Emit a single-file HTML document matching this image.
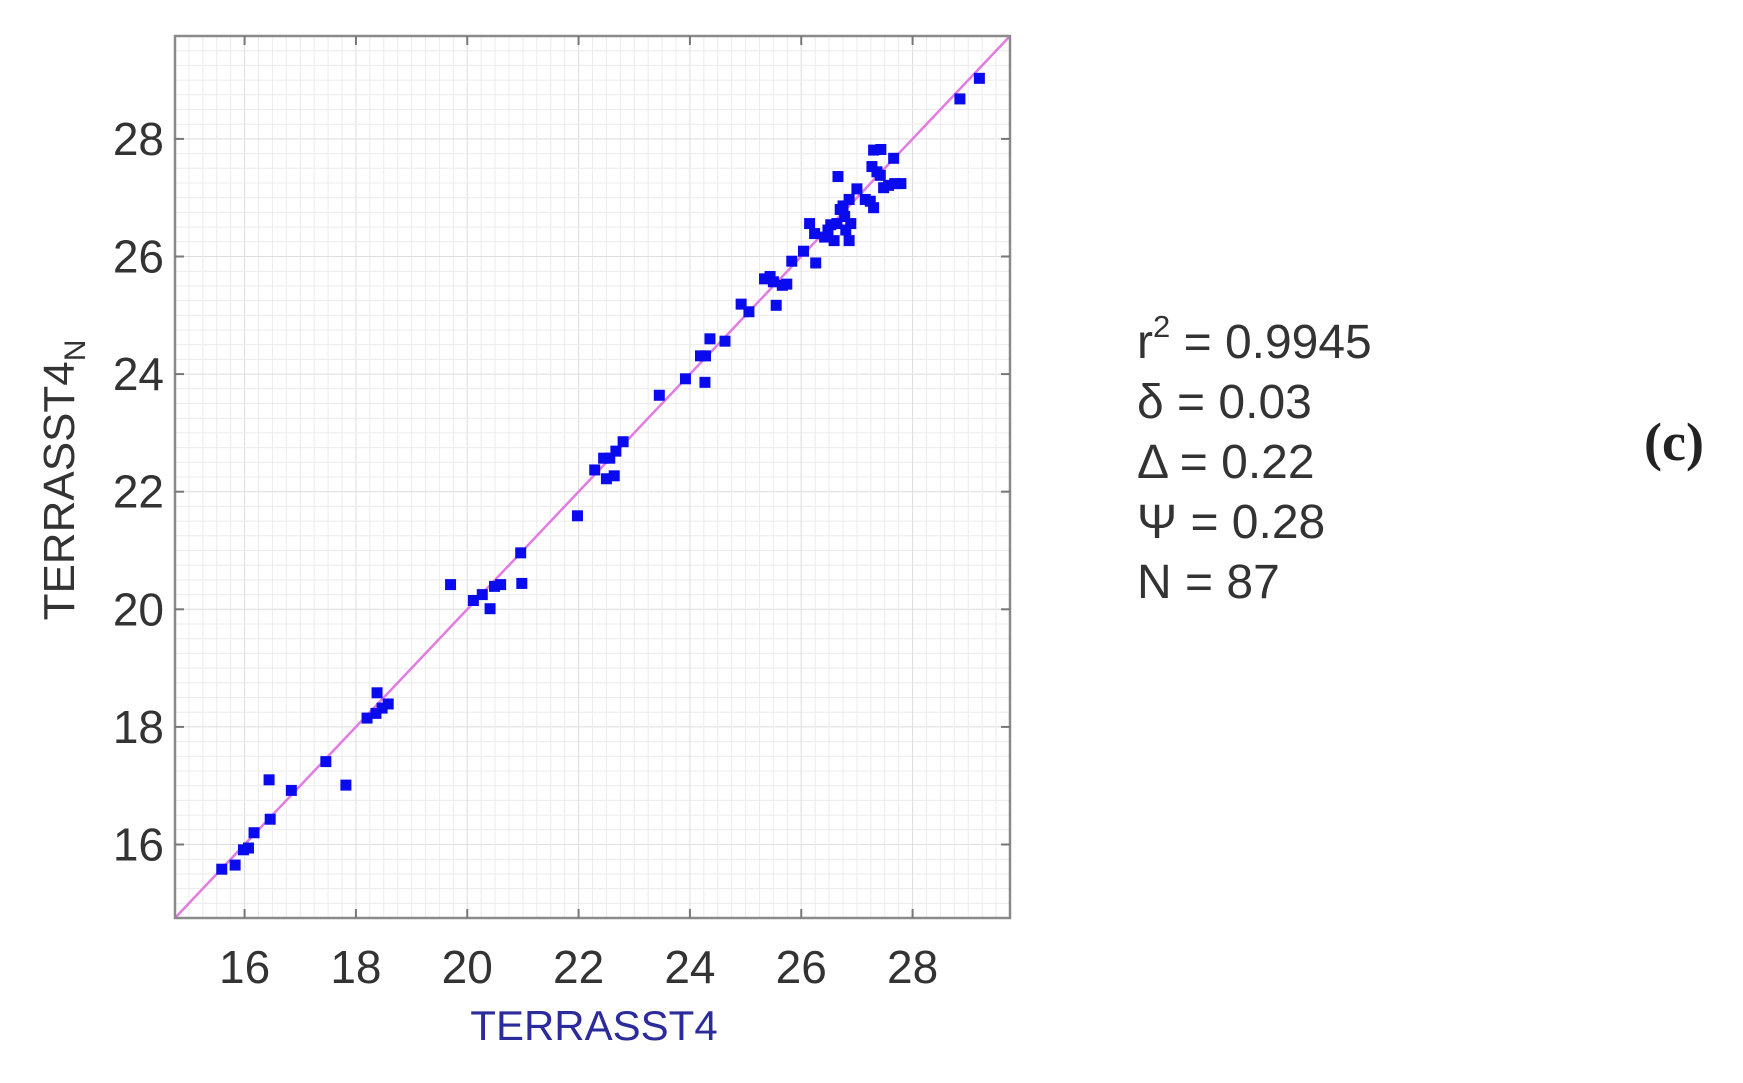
<!DOCTYPE html>
<html><head><meta charset="utf-8"><style>
html,body{margin:0;padding:0;background:#fff;}
svg{display:block;}
</style></head><body>
<svg id="chart" width="1743" height="1083" xmlns="http://www.w3.org/2000/svg" font-family="Liberation Sans, sans-serif">
<rect width="1743" height="1083" fill="#fff"/>
<g id="grid"></g>
<g id="line"></g>
<g id="pts"></g>
<g id="axes"></g>
<text transform="translate(74,480) rotate(-90)" text-anchor="middle" font-size="44" fill="#333">TERRASST4<tspan font-size="30" dy="11">N</tspan></text>
<text x="594" y="1040" text-anchor="middle" font-size="42" fill="#2b2b9c">TERRASST4</text>
<g font-size="48" fill="#333">
<text x="1137" y="358">r<tspan font-size="31" dy="-21">2</tspan><tspan dy="21"> = 0.9945</tspan></text>
<text x="1137" y="418">δ = 0.03</text>
<text x="1137" y="478">Δ = 0.22</text>
<text x="1137" y="538">Ψ = 0.28</text>
<text x="1137" y="598">N = 87</text>
</g>
<text x="1674" y="460" text-anchor="middle" font-family="Liberation Serif, serif" font-weight="bold" font-size="54" fill="#222">(c)</text>
</svg>
<script>
const xVals=[15.59,15.83,15.98,16.07,16.17,16.46,16.44,16.84,17.46,17.82,18.2,18.36,18.38,18.47,18.58,19.7,20.11,20.27,20.41,20.49,20.6,20.96,20.98,21.98,22.29,22.45,22.56,22.5,22.64,22.67,22.8,23.45,23.92,24.19,24.28,24.27,24.36,24.63,24.92,25.06,25.34,25.44,25.5,25.55,25.66,25.74,25.83,26.04,26.15,26.26,26.24,26.42,26.48,26.53,26.59,26.64,26.7,26.75,26.78,26.8,26.86,26.89,26.66,26.86,27.0,27.15,27.24,27.3,27.27,27.36,27.42,27.3,27.43,27.48,27.57,27.68,27.79,27.66,28.85,29.2];
const yVals=[15.58,15.65,15.91,15.94,16.2,16.43,17.1,16.92,17.41,17.01,18.15,18.23,18.58,18.32,18.39,20.42,20.15,20.25,20.01,20.39,20.42,20.96,20.44,21.59,22.37,22.57,22.57,22.22,22.27,22.69,22.85,23.64,23.92,24.31,24.31,23.86,24.6,24.56,25.19,25.06,25.62,25.66,25.57,25.17,25.51,25.53,25.92,26.09,26.56,25.89,26.39,26.33,26.45,26.54,26.27,26.56,26.8,26.86,26.68,26.45,26.27,26.56,27.36,26.97,27.15,26.97,26.94,26.83,27.53,27.44,27.38,27.81,27.82,27.17,27.21,27.24,27.24,27.67,28.68,29.03];
const tickVals=[16,18,20,22,24,26,28];
const tickLabels=["16","18","20","22","24","26","28"];
const domain=[14.75,29.75];
const L=175,R=1010,T=36,B=918;
const NS="http://www.w3.org/2000/svg";
const sx=v=>L+(v-domain[0])/(domain[1]-domain[0])*(R-L);
const sy=v=>B-(v-domain[0])/(domain[1]-domain[0])*(B-T);
function mk(tag,attrs,parent){const e=document.createElementNS(NS,tag);for(const k in attrs)e.setAttribute(k,attrs[k]);parent.appendChild(e);return e;}
const grid=document.getElementById('grid');
mk('rect',{x:L,y:T,width:R-L,height:B-T,fill:'#fff'},grid);
for(let v=15;v<=29.75;v+=0.25){
  const major=Math.abs(v-Math.round(v/2)*2)<1e-6;
  const gx=mk('line',{x1:sx(v),x2:sx(v),y1:T,y2:B,stroke:major?'#dedede':'#ececec','stroke-width':1},grid);
  
  
  const gy=mk('line',{y1:sy(v),y2:sy(v),x1:L,x2:R,stroke:major?'#dedede':'#ececec','stroke-width':1},grid);
  
  
}
const ln=mk('line',{x1:sx(domain[0]),y1:sy(domain[0]),x2:sx(domain[1]),y2:sy(domain[1]),stroke:'#e27be2','stroke-width':2.5},document.getElementById('line'));


const pts=document.getElementById('pts');
for(let i=0;i<xVals.length;i++){
  const r=mk('rect',{x:sx(xVals[i])-5.5,y:sy(yVals[i])-5.5,width:11,height:11,fill:'#0a0aee'},pts);
  
  
}
const axes=document.getElementById('axes');
const fr=mk('rect',{x:L,y:T,width:R-L,height:B-T,fill:'none',stroke:'#8a8a8a','stroke-width':2.5},axes);


tickVals.forEach((v,i)=>{
  mk('line',{x1:sx(v),x2:sx(v),y1:B,y2:B-9,stroke:'#777','stroke-width':2},axes);
  mk('line',{x1:sx(v),x2:sx(v),y1:T,y2:T+9,stroke:'#777','stroke-width':2},axes);
  mk('line',{y1:sy(v),y2:sy(v),x1:L,x2:L+9,stroke:'#777','stroke-width':2},axes);
  mk('line',{y1:sy(v),y2:sy(v),x1:R,x2:R-9,stroke:'#777','stroke-width':2},axes);
  const tx=mk('text',{x:sx(v),y:983,'text-anchor':'middle','font-size':46,fill:'#333'},axes);
  tx.textContent=tickLabels[i];
  
  
  const ty=mk('text',{x:164,y:sy(v)+16,'text-anchor':'end','font-size':46,fill:'#333'},axes);
  ty.textContent=tickLabels[i];
  
  
});
</script>
</body></html>
